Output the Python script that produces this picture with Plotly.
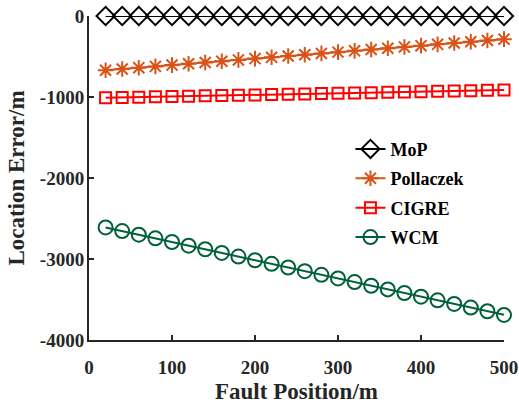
import plotly.graph_objects as go

fault_pos = [20, 40, 60, 80, 100, 120, 140, 160, 180, 200, 220, 240, 260,
             280, 300, 320, 340, 360, 380, 400, 420, 440, 460, 480, 500]
mop = [0] * 25
pollaczek = [-670, -654, -638, -622, -606, -590, -574, -558, -542, -526, -510,
             -494, -478, -462, -446, -430, -414, -398, -382, -366, -350, -334,
             -318, -302, -286]
cigre = [-1010, -1006, -1002, -998, -994, -990, -986, -982, -978, -974, -970,
         -966, -962, -958, -954, -950, -946, -942, -938, -934, -930, -926,
         -922, -918, -914]
wcm = [-2610, -2655, -2700, -2745, -2790, -2835, -2880, -2925, -2970, -3015,
       -3060, -3105, -3150, -3195, -3240, -3285, -3330, -3375, -3420, -3465,
       -3510, -3555, -3600, -3645, -3690]

x_ticks = [0, 100, 200, 300, 400, 500]
x_labels = ["0", "100", "200", "300", "400", "500"]
y_ticks = [-4000, -3000, -2000, -1000, 0]
y_labels = ["-4000", "-3000", "-2000", "-1000", "0"]

font = "Liberation Serif"
axis_col = "#262626"

fig = go.Figure()
series = [
    ("MoP", mop, "#000000", "diamond-open", 14),
    ("Pollaczek", pollaczek, "#D95319", "asterisk-open", 13),
    ("CIGRE", cigre, "#FF0000", "square-open", 11),
    ("WCM", wcm, "#00603A", "circle-open", 14),
]
for name, ys, color, sym, size in series:
    fig.add_trace(go.Scatter(
        x=fault_pos, y=ys, name=name, mode="lines+markers",
        legendgroup=name,
        line=dict(color=color, width=2),
        marker=dict(symbol=sym, size=size, color=color,
                    line=dict(color=color, width=2)),
        cliponaxis=False,
    ))

tickfont = dict(family=font, size=19, color=axis_col, weight="bold")
titlefont = dict(family=font, size=23, color=axis_col, weight="bold")

fig.update_layout(
    width=519, height=404,
    margin=dict(l=89, r=15, t=16, b=64, autoexpand=False),
    paper_bgcolor="white", plot_bgcolor="white",
    font=dict(family=font, size=16, color=axis_col),
    showlegend=True,
    legend=dict(x=0.63, y=0.646, xanchor="left", yanchor="top",
                bgcolor="rgba(0,0,0,0)",
                font=dict(family=font, size=18, color="#000000", weight="bold"),
                tracegroupgap=3, itemwidth=30),
    xaxis=dict(range=[0, 500], tickvals=x_ticks, ticktext=x_labels,
               showgrid=False, automargin=False,
               zeroline=False, showline=True, linecolor=axis_col,
               linewidth=2, ticks="inside", ticklen=5, tickwidth=1.5,
               tickcolor=axis_col, tickfont=tickfont, ticklabelstandoff=9,
               title=dict(text="Fault Position/m", font=titlefont,
                          standoff=17)),
    yaxis=dict(range=[-4000, 0], tickvals=y_ticks, ticktext=y_labels,
               showgrid=False, automargin=False,
               zeroline=False, showline=True, linecolor=axis_col,
               linewidth=2, ticks="inside", ticklen=5, tickwidth=1.5,
               tickcolor=axis_col, tickfont=tickfont, ticklabelstandoff=-1,
               title=dict(text="Location Error/m", font=titlefont,
                          standoff=9)),
)

fig.write_html("out.html", config={"displayModeBar": False},
               post_script="document.body.style.margin='0px';")
